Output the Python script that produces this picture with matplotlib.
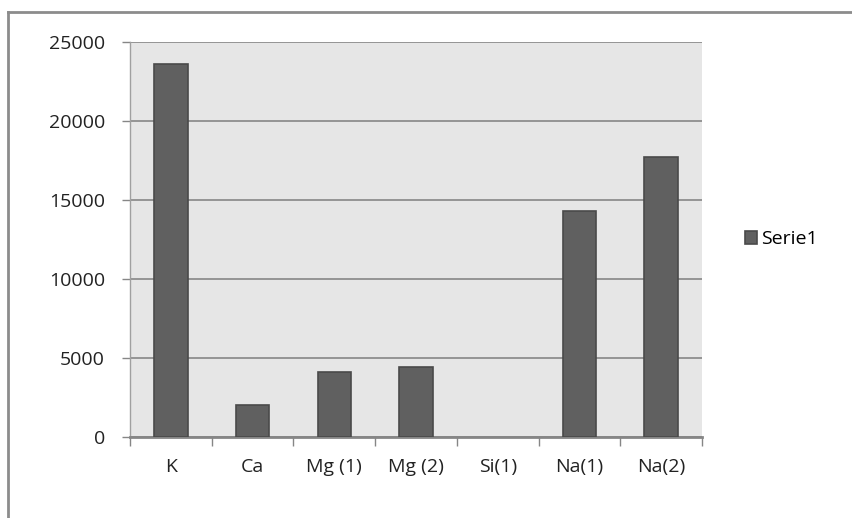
import matplotlib.pyplot as plt
from matplotlib.lines import Line2D
import numpy as np

elementer = ["K", "Ca", "Mg (1)", "Mg (2)", "Si(1)", "Na(1)", "Na(2)"]
verdier = [23600, 2050, 4100, 4450, 0, 14300, 17700]
yticks = [0, 5000, 10000, 15000, 20000, 25000]

plt.rcParams['font.family'] = ['Open Sans', 'DejaVu Sans']

fig = plt.figure(figsize=(8.52, 5.18), dpi=100)
ax = fig.add_axes([130/852, 1-437/518, 572/852, 395/518])
ax.set_facecolor("#e6e6e6")

x = np.arange(len(elementer))
kant = [1.2 if v > 0 else 0 for v in verdier]
ax.bar(x, verdier, 0.41, color="#606060", edgecolor="#4a4a4a", linewidth=kant,
       label="Serie1", zorder=3)

ax.set_xlim(-0.5, len(elementer) - 0.5)
ax.set_ylim(0, 25000)
ax.set_yticks(yticks)
ax.set_yticklabels([str(v) for v in yticks], fontsize=14, color="#222222")
ax.grid(axis="y", color="#868686", linewidth=1.2, zorder=1)

# kategorietiketter midt i hver kolonne, tick-streker på grensene
ax.set_xticks(x)
ax.set_xticklabels(elementer, fontsize=14, color="#222222")
ax.tick_params(axis="x", length=0, pad=15)
ax.set_xticks(np.arange(len(elementer) + 1) - 0.5, minor=True)
ax.tick_params(axis="x", which="minor", length=6.5, width=1, color="#868686",
               direction="out")
ax.tick_params(axis="y", length=6, width=1, color="#868686", pad=12)

for s in ["top", "right"]:
    ax.spines[s].set_visible(False)
ax.spines["left"].set_color("#a0a0a0")
ax.spines["left"].set_linewidth(1)
ax.spines["bottom"].set_color("#868686")
ax.spines["bottom"].set_linewidth(2)

ax.legend(loc="center left", bbox_to_anchor=(1.045, 0.5), frameon=False,
          fontsize=14, handlelength=0.6, handleheight=0.6, handletextpad=0.2)

# ramme rundt diagrammet
fig.add_artist(Line2D([8/852, 1], [1-11.5/518, 1-11.5/518], color="#8c8c8c",
                      linewidth=2, transform=fig.transFigure))
fig.add_artist(Line2D([8/852, 8/852], [0, 1-11.5/518], color="#8c8c8c",
                      linewidth=2, transform=fig.transFigure))

fig.savefig("out.png", dpi=100)
